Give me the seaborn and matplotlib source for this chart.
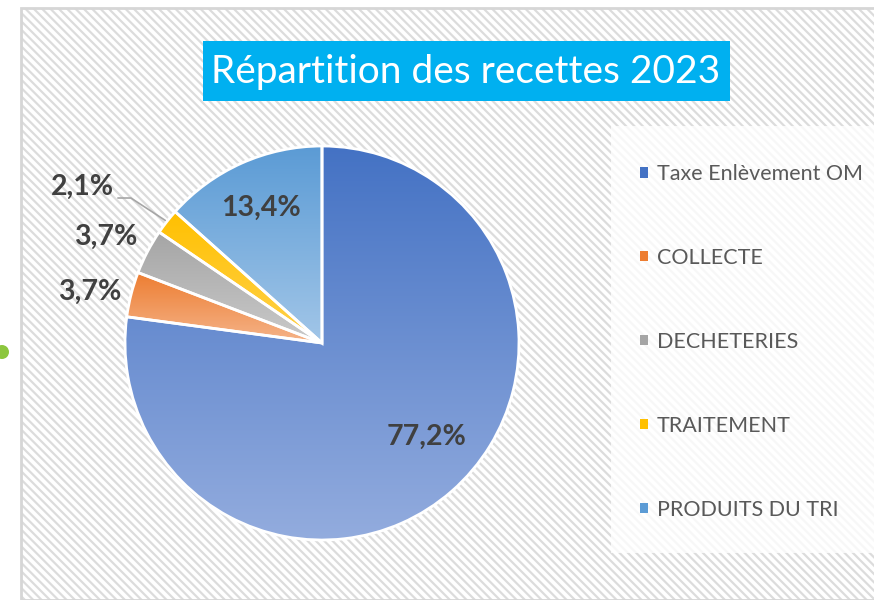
import numpy as np
import seaborn as sns
import matplotlib.pyplot as plt
from matplotlib.patches import Rectangle, Ellipse, Patch
from matplotlib.colors import LinearSegmentedColormap

categories = ['Taxe Enlèvement OM', 'COLLECTE', 'DECHETERIES', 'TRAITEMENT', 'PRODUITS DU TRI']
values = [77.2, 3.7, 3.7, 2.1, 13.4]
labels = ['77,2%', '3,7%', '3,7%', '2,1%', '13,4%']

# couleurs haut / bas du dégradé
col_top = ['#4472C4', '#ED7D31', '#A5A5A5', '#FFC000', '#5B9BD5']
col_bot = ['#93ACDE', '#F5B48A', '#CACACA', '#FFD24D', '#A2C6E8']

sns.set_theme(style='white')
plt.rcParams['font.family'] = ['Lato', 'DejaVu Sans']
plt.rcParams['hatch.linewidth'] = 1.6

W, H = 874, 600
fig = plt.figure(figsize=(W / 100, H / 100), dpi=100)
fig.patch.set_facecolor('white')

def fx(px):
    return px / W

def fy(py):
    return 1 - py / H

# fond hachuré du graphique
fig.patches.append(Rectangle((fx(21), 0), 1, fy(8), transform=fig.transFigure,
                             facecolor='white', edgecolor='#DCDCDC', hatch='\\\\\\\\',
                             linewidth=0, zorder=-3))
fig.patches.append(Rectangle((fx(21), 0), 1, fy(8), transform=fig.transFigure,
                             fill=False, edgecolor='#D6D6D6', linewidth=2, zorder=-3))
# petit point vert à gauche
fig.patches.append(Ellipse((fx(2), fy(352)), 14 / W, 14 / H, transform=fig.transFigure,
                           facecolor='#8CC63E', edgecolor='none', zorder=-2))
# zone de légende blanche
fig.patches.append(Rectangle((fx(611), fy(553)), 1, fy(126) - fy(553), transform=fig.transFigure,
                             facecolor='white', edgecolor='none', alpha=0.8, zorder=-2))

# titre
fig.patches.append(Rectangle((fx(203), fy(101)), fx(730) - fx(203), fy(41) - fy(101),
                             transform=fig.transFigure, facecolor='#00B0F0',
                             edgecolor='none', zorder=1))
fig.text(fx(466), fy(72), 'Répartition des recettes 2023', color='white', fontsize=28,
         fontweight='normal', ha='center', va='center', zorder=2)

# camembert
cx, cy, r = 322, 343, 197
ax = fig.add_axes([fx(cx - r), fy(cy + r), fx(2 * r), fy(cy - r) - fy(cy + r)])
ax.set_zorder(3)
ax.set_facecolor('none')
wedges, _ = ax.pie(values, startangle=90, counterclock=False,
                   wedgeprops=dict(edgecolor='white', linewidth=2))

grad = np.linspace(0, 1, 256).reshape(-1, 1)
for w, ct, cb in zip(wedges, col_top, col_bot):
    ext = w.get_path().get_extents()
    cmap = LinearSegmentedColormap.from_list('g', [cb, ct])
    im = ax.imshow(grad, cmap=cmap, origin='lower', aspect='auto',
                   extent=[ext.x0, ext.x1, ext.y0, ext.y1], zorder=1)
    im.set_clip_path(w)
    w.set_facecolor('none')
    w.set_zorder(2)

ax.set_xlim(-1, 1)
ax.set_ylim(-1, 1)
ax.set_aspect('equal')
ax.axis('off')

# étiquettes de données
label_pos = [(0.533, -0.477), (-1.178, 0.259), (-1.096, 0.538), (-1.218, 0.792), (-0.310, 0.685)]
for (lx, ly), txt in zip(label_pos, labels):
    ax.text(lx, ly, txt, ha='center', va='center', fontsize=20.5, fontweight='bold',
            color='#404040', zorder=3, clip_on=False)

# ligne de rappel pour TRAITEMENT
wt = wedges[3]
mid = np.deg2rad((wt.theta1 + wt.theta2) / 2)
ex, ey = np.cos(mid) * 1.01, np.sin(mid) * 1.01
ax.plot([-1.036, -0.970, ex], [0.736, 0.736, ey], color='#A6A6A6', lw=1.2,
        zorder=3, clip_on=False)

# légende
handles = [Patch(facecolor=c, edgecolor='none') for c in col_top]
leg = fig.legend(handles, categories, loc='upper left', bbox_to_anchor=(fx(640), fy(164)),
                 frameon=False, fontsize=15.5, labelcolor='#595959',
                 handlelength=0.37, handleheight=0.37, handletextpad=0.42,
                 labelspacing=2.97, borderpad=0, borderaxespad=0)

fig.savefig('out.png', dpi=100)
